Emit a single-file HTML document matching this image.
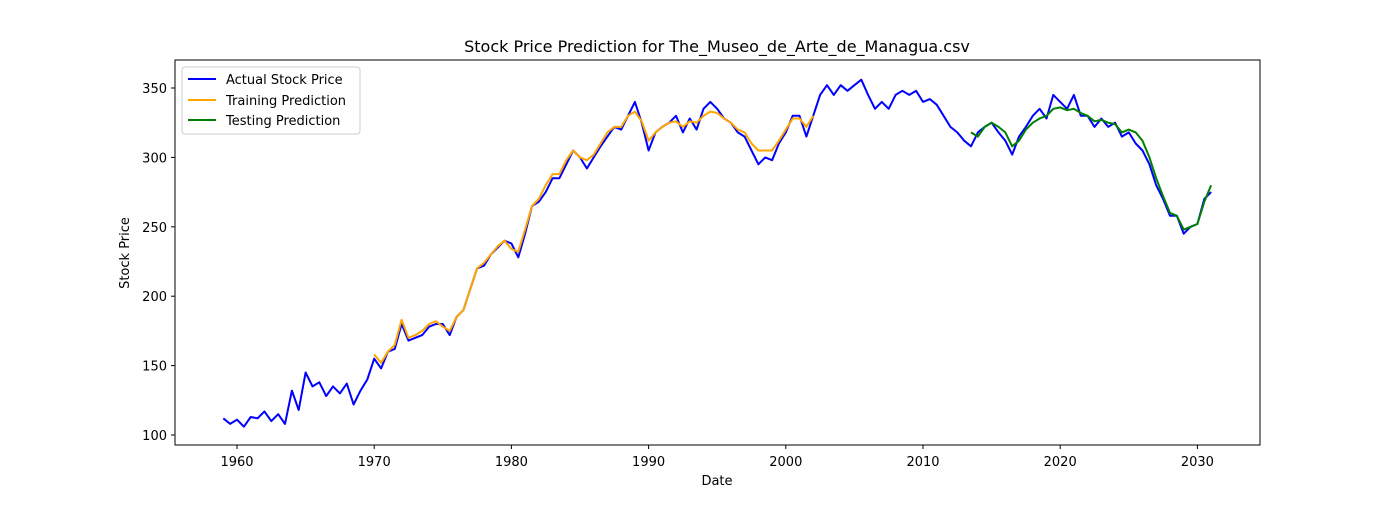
<!DOCTYPE html>
<html><head><meta charset="utf-8"><style>
body{margin:0;background:#fff;font-family:"Liberation Sans","DejaVu Sans",sans-serif}
</style></head><body>
<svg id="chart" width="1400" height="500" xmlns="http://www.w3.org/2000/svg" font-family="'DejaVu Sans','Liberation Sans',sans-serif">
<rect width="1400" height="500" fill="#fff"/>
<text x="717" y="52" text-anchor="middle" font-size="16">Stock Price Prediction for The_Museo_de_Arte_de_Managua.csv</text>
<g id="axes"></g>
<g id="series"></g>
<rect x="175" y="60" width="1085" height="385" fill="none" stroke="#000" stroke-width="1"/>
<text x="717" y="485" text-anchor="middle" font-size="13">Date</text>
<text x="129" y="253" text-anchor="middle" font-size="13" transform="rotate(-90 129 253)">Stock Price</text>
<g>
<rect x="182" y="67" width="178" height="67" fill="#fff" stroke="#ccc" rx="3"/>
<line x1="188" y1="79" x2="216" y2="79" stroke="blue" stroke-width="2"/>
<text x="226" y="84" font-size="13">Actual Stock Price</text>
<line x1="188" y1="100" x2="216" y2="100" stroke="orange" stroke-width="2"/>
<text x="226" y="105" font-size="13">Training Prediction</text>
<line x1="188" y1="120" x2="216" y2="120" stroke="green" stroke-width="2"/>
<text x="226" y="125" font-size="13">Testing Prediction</text>
</g>
</svg>
<script>
const xTicks=[1960,1970,1980,1990,2000,2010,2020,2030];
const yTicks=[100,150,200,250,300,350];
const actualStart=1959, trainStart=1970, testStart=2013.5, step=0.5;
const actualValues=[112,108,111,106,113,112,117,110,115,108,132,118,145,135,138,128,135,130,137,122,132,140,155,148,160,162,180,168,170,172,178,180,180,172,185,190,205,220,222,230,235,240,238,228,245,265,268,275,285,285,295,305,300,292,300,308,315,322,320,330,340,325,305,318,322,325,330,318,328,320,335,340,335,328,325,318,315,305,295,300,298,310,318,330,330,315,330,345,352,345,352,348,352,356,345,335,340,335,345,348,345,348,340,342,338,330,322,318,312,308,318,322,325,318,312,302,315,322,330,335,328,345,340,335,345,330,330,322,328,322,325,315,318,310,305,295,280,270,258,258,245,250,252,270,275];
const trainValues=[158,152,160,165,183,170,172,175,180,182,178,175,185,190,205,220,224,230,236,240,234,232,248,265,270,280,288,288,298,305,300,298,302,310,318,322,322,330,333,326,312,318,322,325,326,322,326,325,330,333,332,328,325,320,318,310,305,305,305,312,320,328,328,322,330];
const testValues=[318,315,322,325,322,318,308,312,320,325,328,330,335,336,334,335,332,330,326,327,325,324,318,320,318,312,300,285,272,260,258,248,250,252,268,280];
const NS='http://www.w3.org/2000/svg';
const X=yr=>237+(yr-1960)*13.72;
const Y=v=>435-(v-100)*1.388;
const axes=document.getElementById('axes'),series=document.getElementById('series');
function mk(tag,attrs,parent){const e=document.createElementNS(NS,tag);for(const k in attrs)e.setAttribute(k,attrs[k]);parent.appendChild(e);return e;}
xTicks.forEach(t=>{const g=mk('g',{},axes);


mk('line',{x1:X(t),x2:X(t),y1:445,y2:449,stroke:'#000'},g);
const tx=mk('text',{x:X(t),y:466,'text-anchor':'middle','font-size':13},g);tx.textContent=t;});
yTicks.forEach(t=>{const g=mk('g',{},axes);


mk('line',{x1:171,x2:175,y1:Y(t),y2:Y(t),stroke:'#000'},g);
const tx=mk('text',{x:167,y:Y(t)+5,'text-anchor':'end','font-size':13},g);tx.textContent=t;});
function line(vals,start,color,name){const pts=vals.map((v,i)=>X(start+i*step).toFixed(1)+','+Y(v).toFixed(1)).join(' ');
const p=mk('polyline',{points:pts,fill:'none',stroke:color,'stroke-width':2,'stroke-linejoin':'round'},series);

}
line(actualValues,actualStart,'blue','actual-price-line');
line(trainValues,trainStart,'orange','training-prediction-line');
line(testValues,testStart,'green','testing-prediction-line');
</script>
</body></html>
